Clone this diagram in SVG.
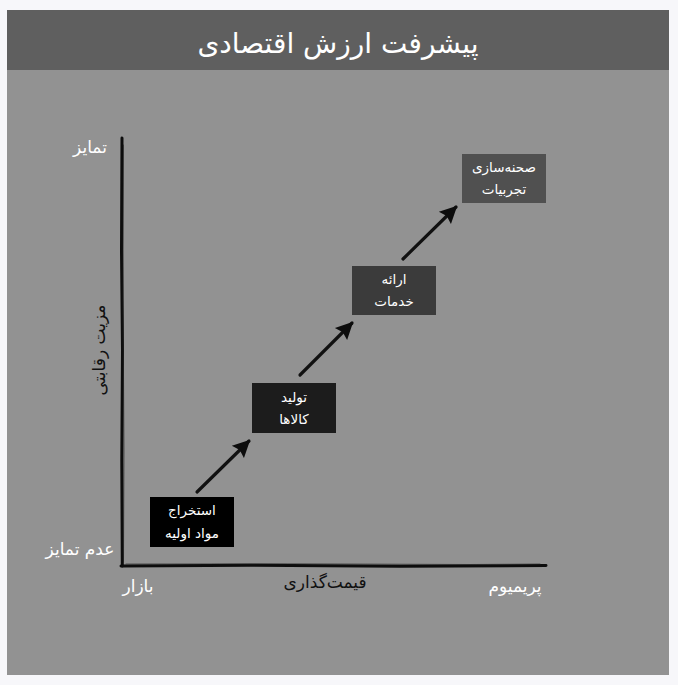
<svg xmlns="http://www.w3.org/2000/svg" width="678" height="685" viewBox="0 0 678 685">
<style>
text{font-family:"DejaVu Sans","Noto Sans",sans-serif;}
.title{font-size:28px;fill:#ffffff;text-anchor:middle;}
.lblw{font-size:17px;fill:#ffffff;text-anchor:middle;}
.lbld{font-size:17px;fill:#111111;text-anchor:middle;}
.bt{font-size:13.5px;fill:#ffffff;text-anchor:middle;}
.axis{fill:none;stroke:#0d0d0d;stroke-width:3;stroke-linecap:round;}
.axis2{fill:none;stroke:#222;stroke-width:1;stroke-linecap:round;opacity:0.6;}
.arr{fill:none;stroke:#111;stroke-width:3.2;stroke-linecap:round;}
</style>
<defs>
<marker id="ah" viewBox="0 0 10 10" refX="9" refY="5" markerWidth="6.2" markerHeight="5.4" markerUnits="strokeWidth" orient="auto">
<path d="M0,0 L10,5 L0,10 L1.5,5 Z" fill="#0d0d0d"/>
</marker>
</defs>
<rect x="0" y="0" width="678" height="685" fill="#f7f7fa"/>
<rect x="7" y="10" width="662" height="665" fill="#929292"/>
<rect x="7" y="10" width="662" height="60" fill="#5f5f5f"/>
<text class="title" x="338" y="53">پیشرفت ارزش اقتصادی</text>

<g id="axes">
<path class="axis" d="M122,138 L121.5,250 L122.5,350 L121.8,460 L122.3,566"/>
<path class="axis2" d="M123.5,145 L123,300 L124,450 L123.5,562"/>
<path class="axis" d="M121,566 L250,565.3 L400,566.2 L546,565.5"/>
<path class="axis2" d="M126,564 L300,563.8 L470,564.5 L540,564"/>
</g>

<g id="labels">
<text class="lblw" x="90" y="153">تمایز</text>
<text class="lblw" x="80" y="555">عدم تمایز</text>
<text class="lbld" transform="translate(105,350) rotate(-90)" x="0" y="0">مزیت رقابتی</text>
<text class="lblw" x="138" y="592">بازار</text>
<text class="lbld" x="325" y="588">قیمت‌گذاری</text>
<text class="lblw" x="515" y="592">پریمیوم</text>
</g>

<g id="connectors">
<line class="arr" x1="197" y1="492" x2="249" y2="441" marker-end="url(#ah)"/>
<line class="arr" x1="300" y1="375" x2="352" y2="323" marker-end="url(#ah)"/>
<line class="arr" x1="403" y1="259" x2="456" y2="207" marker-end="url(#ah)"/>
</g>

<g id="node1">
<rect x="150" y="497" width="84" height="50" fill="#000000"/>
<text class="bt" x="192" y="515">استخراج</text>
<text class="bt" x="192" y="538">مواد اولیه</text>
</g>
<g id="node2">
<rect x="252" y="383" width="84" height="50" fill="#1c1c1c"/>
<text class="bt" x="294" y="402">تولید</text>
<text class="bt" x="294" y="424">کالاها</text>
</g>
<g id="node3">
<rect x="352" y="266" width="84" height="49" fill="#3b3b3b"/>
<text class="bt" x="394" y="284">ارائه</text>
<text class="bt" x="394" y="306">خدمات</text>
</g>
<g id="node4">
<rect x="462" y="154" width="84" height="49" fill="#505050"/>
<text class="bt" x="504" y="172">صحنه‌سازی</text>
<text class="bt" x="504" y="194">تجربیات</text>
</g>
</svg>
